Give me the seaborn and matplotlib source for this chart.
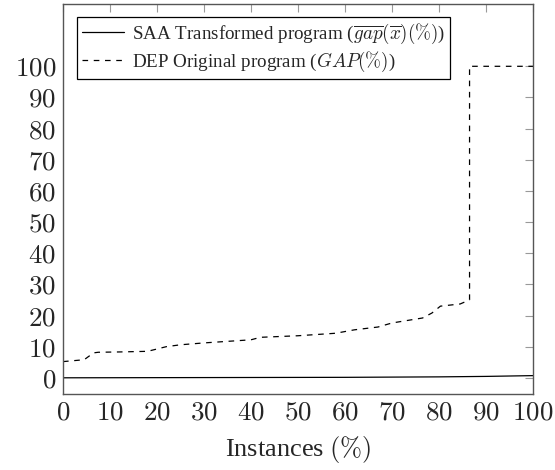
import matplotlib
matplotlib.use("Agg")
import matplotlib.pyplot as plt
import seaborn as sns
import pandas as pd
from matplotlib.ticker import FuncFormatter

# Data
saa_x = [0, 20, 40, 60, 80, 90, 100]
saa_y = [0.0, 0.05, 0.1, 0.15, 0.3, 0.45, 0.7]

dep_x = [0, 4.5, 6.5, 7.5, 12, 18, 22, 25, 30, 35, 40, 42, 50, 58, 62, 67, 70, 76.5, 78.5, 80.3, 84.5, 86.5, 86.5, 100]
dep_y = [5.2, 5.8, 8.0, 8.2, 8.3, 8.5, 10.0, 10.6, 11.2, 11.7, 12.2, 13.0, 13.5, 14.3, 15.4, 16.3, 17.6, 19.2, 20.8, 23.0, 23.7, 25.0, 100.0, 100.0]

saa_label = r"SAA Transformed program ($\overline{gap}(\overline{x})(\%)$)"
dep_label = r"DEP Original program ($GAP(\%)$)"

df_saa = pd.DataFrame({"x": saa_x, "y": saa_y})
df_dep = pd.DataFrame({"x": dep_x, "y": dep_y})

sns.set_style("white")
plt.rcParams["font.family"] = ["Liberation Serif", "DejaVu Serif"]
plt.rcParams["mathtext.fontset"] = "cm"

fig = plt.figure(figsize=(5.55, 4.70), dpi=100)
ax = fig.add_axes([63 / 555, 1 - 394 / 470, 470 / 555, 390 / 470])

sns.lineplot(data=df_saa, x="x", y="y", ax=ax, color="black", linewidth=0.9,
             label=saa_label, estimator=None, sort=False)
sns.lineplot(data=df_dep, x="x", y="y", ax=ax, color="black", linewidth=0.9,
             linestyle=(0, (4.5, 4.5)), label=dep_label, estimator=None, sort=False)

ax.set_xlim(0, 100)
ax.set_ylim(-5.2, 120)
ax.set_xticks(range(0, 101, 10))
ax.set_yticks(range(0, 101, 10))
fmt = FuncFormatter(lambda v, p: r"$%d$" % int(round(v)))
ax.xaxis.set_major_formatter(fmt)
ax.yaxis.set_major_formatter(fmt)
ax.tick_params(axis="both", direction="in", length=6, width=0.8, color="#999999",
               labelsize=19.5, top=True, right=True, pad=5)
ax.set_xlabel(r"Instances $(\%)$", fontsize=19, labelpad=6)
ax.set_ylabel("")
for s in ax.spines.values():
    s.set_color("#555555")
    s.set_linewidth(1.0)

leg = ax.legend(loc="upper left", bbox_to_anchor=(0.03, 0.967), fontsize=13.7,
                frameon=True, fancybox=False, framealpha=1, edgecolor="black",
                handlelength=2.2, borderpad=0.25, labelspacing=0.22, handletextpad=0.45,
                borderaxespad=0)
leg.get_frame().set_linewidth(0.9)

fig.savefig("out.png", dpi=100)
